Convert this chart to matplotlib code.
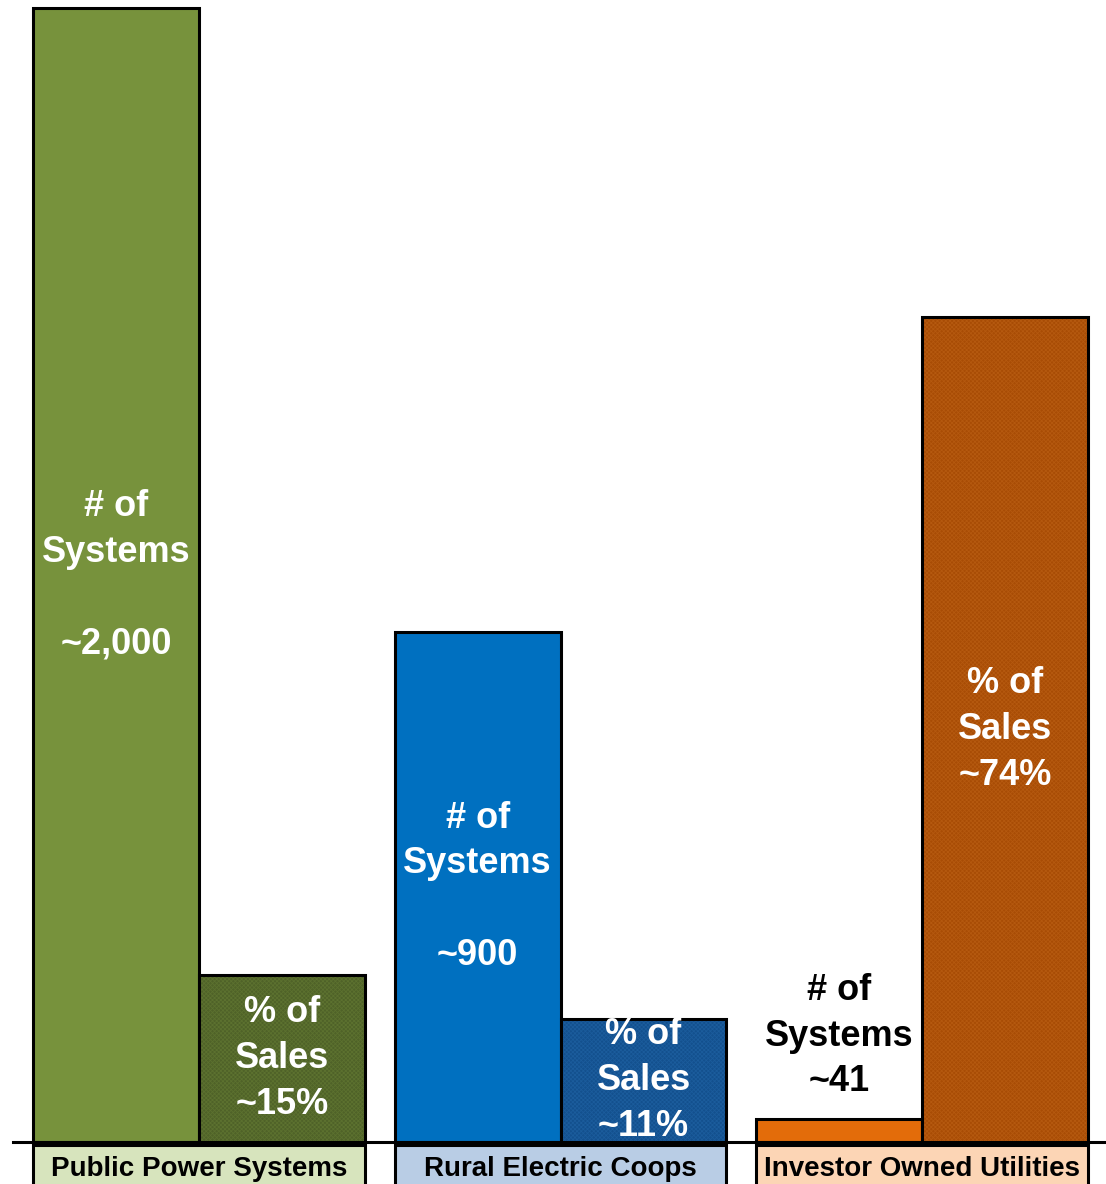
import matplotlib
matplotlib.use("Agg")
import matplotlib.pyplot as plt
from matplotlib.patches import Rectangle
from matplotlib.transforms import blended_transform_factory

plt.rcParams['font.family'] = ['Liberation Sans', 'DejaVu Sans']
plt.rcParams['hatch.linewidth'] = 0.6

# Data
categories = ["Public Power Systems", "Rural Electric Coops", "Investor Owned Utilities"]
num_systems = [2000, 900, 41]
num_labels = ["~2,000", "~900", "~41"]
pct_sales = [15, 11, 74]
pct_labels = ["~15%", "~11%", "~74%"]

# Styling
sys_colors = ["#77923C", "#0070C0", "#E36C0A"]
pct_colors = ["#4F6228", "#13508E", "#A84C05"]
pct_hatch = ["#5C712F", "#1B5C9C", "#B5590F"]
box_colors = ["#D7E4BD", "#B9CDE5", "#FCD5B5"]

fig = plt.figure(figsize=(11.06, 11.84), dpi=100)
ax = fig.add_axes([13 / 1106, 42 / 1184, 1093 / 1106, 1142 / 1184])
ax2 = ax.twinx()

width = 0.459
x = [0, 1, 2]

ax.set_xlim(-0.515, 2.509)
ax.set_ylim(0, 2000 * 1142 / 1134)
ax2.set_ylim(0, 1142 / 11.15)

for a in (ax, ax2):
    for s in ("top", "left", "right"):
        a.spines[s].set_visible(False)
    a.set_xticks([])
    a.set_yticks([])
ax2.spines["bottom"].set_visible(False)
ax.spines["bottom"].set_linewidth(2.2)
ax.spines["bottom"].set_color("black")
ax.spines["bottom"].set_zorder(5)

lbl_font = dict(fontsize=26, fontweight="bold", ha="center", va="center",
                linespacing=1.4)

for i in x:
    xs = i - width / 2
    xp = i + width / 2
    ax.bar(xs, num_systems[i], width=width, color=sys_colors[i],
           edgecolor="black", linewidth=2.2, zorder=2)
    # percent-of-sales bars with a fine woven texture
    ax2.bar(xp, pct_sales[i], width=width, color=pct_colors[i],
            edgecolor=pct_hatch[i], linewidth=0, hatch="xxxxxxxx", zorder=2)
    ax2.bar(xp, pct_sales[i], width=width, color="none",
            edgecolor="black", linewidth=2.2, zorder=3)

    if num_systems[i] > 200:
        ax.text(xs, num_systems[i] / 2, "# of\nSystems\n\n" + num_labels[i],
                color="white", zorder=4, **lbl_font)
    else:
        ax.annotate("# of\nSystems\n" + num_labels[i], (xs, num_systems[i]),
                    xytext=(0, 14), textcoords="offset points",
                    color="black", zorder=4,
                    **{**lbl_font, "va": "bottom"})
    ax2.text(xp, pct_sales[i] / 2, "% of\nSales\n" + pct_labels[i],
             color="white", zorder=4, **lbl_font)

# Category boxes under the baseline
trans = blended_transform_factory(ax.transData, ax.transAxes)
for i in x:
    ax.add_patch(Rectangle((i - width, -0.06), 2 * width, 0.0575,
                           transform=trans, facecolor=box_colors[i],
                           edgecolor="black", linewidth=2.2, clip_on=False,
                           zorder=1))
    ax.text(i, -0.0235, categories[i], transform=trans, ha="center",
            va="center", fontsize=20, fontweight="bold", color="black",
            clip_on=False)

fig.savefig("out.png", dpi=100, facecolor="white")
